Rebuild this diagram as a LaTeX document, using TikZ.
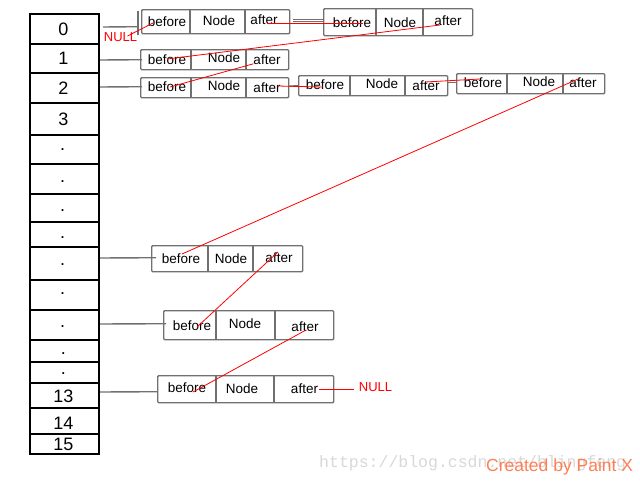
\documentclass[tikz,border=0pt]{standalone}
\usepackage{fontspec}
\setmainfont{Liberation Sans}
\newfontfamily\wmfont{Liberation Mono}
\usetikzlibrary{calc}
\definecolor{boxgray}{HTML}{707070}
\definecolor{wmgray}{HTML}{D8D8D8}
\definecolor{paintx}{HTML}{FF7F55}
\tikzset{
  cell/.style={draw=black, line width=2pt, minimum width=69pt, inner sep=0pt, anchor=north west},
  idx/.style={font=\fontsize{18}{18}\selectfont, inner sep=0pt},
  dotlbl/.style={font=\fontsize{18}{18}\selectfont, inner sep=0pt, anchor=base},
  lbox/.style={draw=boxgray, line width=1.4pt, rounded corners=1pt, inner sep=0pt, anchor=north west},
  divl/.style={draw=boxgray, line width=1.4pt},
  ftxt/.style={font=\fontsize{13.5}{13.5}\selectfont, inner sep=0pt},
  conn/.style={draw=boxgray, line width=1.4pt},
  link/.style={draw=red, line width=0.8pt},
  nulltxt/.style={text=red, font=\fontsize{13}{13}\selectfont, inner sep=0pt},
}
\newcommand{\arrcell}[3]{\node[cell, minimum height={#3-#2}] (#1) at (29,#2) {};}
\newcommand{\lnode}[7]{%
  \node[lbox, minimum width={#5-#2}, minimum height={#7-#6}] (#1) at (#2,#6) {};
  \draw[divl] (#3,#6) -- (#3,#7);
  \draw[divl] (#4,#6) -- (#4,#7);}
\begin{document}
\begin{tikzpicture}[x=1pt,y=-1pt]
\useasboundingbox (0,0) rectangle (640,480);
% array cells
\arrcell{c0}{13}{43}
\arrcell{c1}{43}{72}
\arrcell{c2}{72}{102}
\arrcell{c3}{102}{134}
\arrcell{d1}{134}{163}
\arrcell{d2}{163}{193}
\arrcell{d3}{193}{221}
\arrcell{d4}{221}{246}
\arrcell{d5}{246}{279}
\arrcell{d6}{279}{309}
\arrcell{d7}{309}{339}
\arrcell{d8}{339}{361}
\arrcell{d9}{361}{382}
\arrcell{c13}{382}{407}
\arrcell{c14}{407}{433}
\arrcell{c15}{433}{453}
\node[idx] (l0) at (63.5,29) {0};
\node[idx] (l1) at (63.5,58) {1};
\node[idx] (l2) at (63.5,88) {2};
\node[idx] (l3) at (63.5,119) {3};
\node[dotlbl] (ld1) at (62.5,150) {.};
\node[dotlbl] (ld2) at (62.5,182) {.};
\node[dotlbl] (ld3) at (62.5,211) {.};
\node[dotlbl] (ld4) at (62.5,238) {.};
\node[dotlbl] (ld5) at (62.5,265) {.};
\node[dotlbl] (ld6) at (62.5,294) {.};
\node[dotlbl] (ld7) at (62.5,327) {.};
\node[dotlbl] (ld8) at (63.5,354) {.};
\node[dotlbl] (ld9) at (63.5,374) {.};
\node[idx] (l13) at (63.5,396) {13};
\node[idx] (l14) at (63.5,423) {14};
\node[idx] (l15) at (63.5,444) {15};
% list nodes
\lnode{A}{141}{190}{245}{289}{9}{33}
\draw[divl] (138,11) -- (138,35);
\node[ftxt] (Ab) at (167,22) {before};
\node[ftxt] (An) at (219,21) {Node};
\node[ftxt] (Aa) at (264,20) {after};
\lnode{B}{323}{376}{423}{472}{8}{35}
\node[ftxt] (Bb) at (352,23) {before};
\node[ftxt] (Bn) at (400,23) {Node};
\node[ftxt] (Ba) at (448,21) {after};
\lnode{C}{140}{191}{246}{288}{49}{69}
\node[ftxt] (Cb) at (167,60) {before};
\node[ftxt] (Cn) at (224,58) {Node};
\node[ftxt] (Ca) at (267,60) {after};
\lnode{D}{140}{191}{246}{288}{77}{97}
\node[ftxt] (Db) at (167,87) {before};
\node[ftxt] (Dn) at (224,86) {Node};
\node[ftxt] (Da) at (267,88) {after};
\lnode{E}{298}{350}{405}{447}{75}{95}
\node[ftxt] (Eb) at (325,85) {before};
\node[ftxt] (En) at (382,84) {Node};
\node[ftxt] (Ea) at (426,86) {after};
\lnode{F}{456}{507}{563}{604}{73}{93}
\node[ftxt] (Fb) at (483,83) {before};
\node[ftxt] (Fn) at (539,82) {Node};
\node[ftxt] (Fa) at (583,83) {after};
\lnode{G}{151}{208}{253}{302}{245}{271}
\node[ftxt] (Gb) at (181,259) {before};
\node[ftxt] (Gn) at (231,259) {Node};
\node[ftxt] (Ga) at (279,258) {after};
\lnode{H}{163}{216}{275}{333}{310}{339}
\node[ftxt] (Hb) at (192,326) {before};
\node[ftxt] (Hn) at (245,324) {Node};
\node[ftxt] (Ha) at (305,327) {after};
\lnode{I}{157}{216}{274}{333}{375}{402}
\node[ftxt] (Ib) at (187,387.5) {before};
\node[ftxt] (In) at (242,389) {Node};
\node[ftxt] (Ia) at (304.5,389) {after};
\node[nulltxt] (null1) at (120.5,37.5) {NULL};
\node[nulltxt] (null2) at (375.5,387) {NULL};
% gray connectors
\draw[conn] ($(c0.east)+(3,-2)$) -- ($(A.west)+(-4,5)$);
\draw[conn] ($(c1.east)+(0,1.5)$) -- ($(C.west)+(2,0)$);
\draw[conn] ($(c2.east)+(0,-1)$) -- ($(D.west)+(2,-1)$);
\draw[conn, line width=0.9pt] ($(A.east)+(3,-2)$) -- ($(B.west)+(0,-2.5)$);
\draw[conn, line width=0.9pt] ($(A.east)+(3,0)$) -- ($(B.west)+(0,-0.5)$);
\draw[conn] ($(D.east)+(0,-1.5)$) -- ($(E.west)+(0,0)$);
\draw[conn] ($(E.east)+(0,-3)$) -- ($(F.west)+(0,-1)$);
\draw[conn] ($(d5.east)+(0,-5.5)$) -- ($(G.west)+(5,-1)$);
\draw[conn] ($(d7.east)+(0,-1)$) -- ($(H.west)+(3,-1.5)$);
\draw[conn] ($(c13.east)+(0,-3.5)$) -- ($(I.west)+(0,2.5)$);
% red links
\draw[link] ($(null1)+(7,-1.5)$) -- ($(Ab)+(-14,1)$);
\draw[link] ($(Aa)+(3,3)$) -- ($(Bb)+(11,0)$);
\draw[link] ($(Ba)+(-8,4)$) -- ($(Cb)+(0,-1)$);
\draw[link] (Ca) -- ($(Db)+(3,0)$);
\draw[link] ($(Da)+(10,-2)$) -- ($(Eb)+(-2,2)$);
\draw[link] ($(Ea)+(-1,-4)$) -- ($(Fb)+(-3,-4)$);
\draw[link] ($(Fa)+(-5,-4)$) -- ($(Gb)+(1,-5)$);
\draw[link] ($(Ga)+(-1,-6)$) -- ($(Hb)+(5,1)$);
\draw[link] ($(Ha)+(1,3)$) -- ($(Ib)+(6,4.5)$);
\draw[link] ($(Ia)+(14,0)$) -- ($(null2)+(-21.5,2)$);
% watermarks
\node[anchor=base west, inner sep=0pt, text=wmgray, font=\wmfont\fontsize{16.5}{16.5}\selectfont] (wm) at (319,467) {https://blog.csdn.net/blingfeng};
\node[anchor=base west, inner sep=0pt, text=paintx, font=\fontsize{17.5}{17.5}\selectfont] (px) at (486,471) {Created by Paint X};
\end{tikzpicture}
\end{document}
